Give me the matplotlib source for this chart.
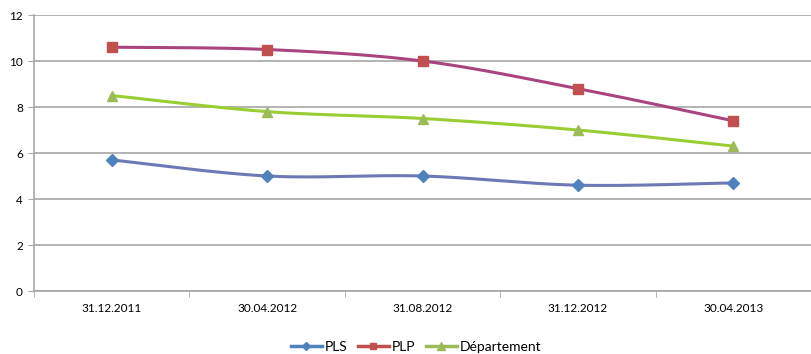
import numpy as np
import matplotlib
matplotlib.use("Agg")
import matplotlib.pyplot as plt

# Données
dates = ["31.12.2011", "30.04.2012", "31.08.2012", "31.12.2012", "30.04.2013"]
pls = [5.7, 5.0, 5.0, 4.6, 4.7]
plp = [10.6, 10.5, 10.0, 8.8, 7.4]
departement = [8.5, 7.8, 7.5, 7.0, 6.3]

SERIES = [
    ("PLS", pls, "#6E78B4", "#4F81BD", "D", 6.5),
    ("PLP", plp, "#A9457E", "#C0504D", "s", 7),
    ("Département", departement, "#9ACD32", "#9BBB59", "^", 7.5),
]

GRID = "#A6A6A6"


def smooth(x, y, n=40):
    # courbe lissée façon Excel (Bézier type Catmull-Rom)
    x = np.asarray(x, float)
    y = np.asarray(y, float)
    px = np.concatenate([[x[0]], x, [x[-1]]])
    py = np.concatenate([[y[0]], y, [y[-1]]])
    xs, ys = [], []
    t = np.linspace(0, 1, n)
    for i in range(len(x) - 1):
        p0 = np.array([px[i + 1], py[i + 1]])
        p3 = np.array([px[i + 2], py[i + 2]])
        c1 = p0 + (np.array([px[i + 2], py[i + 2]]) - np.array([px[i], py[i]])) / 6
        c2 = p3 - (np.array([px[i + 3], py[i + 3]]) - np.array([px[i + 1], py[i + 1]])) / 6
        b = ((1 - t) ** 3)[:, None] * p0 + (3 * (1 - t) ** 2 * t)[:, None] * c1 \
            + (3 * (1 - t) * t ** 2)[:, None] * c2 + (t ** 3)[:, None] * p3
        xs.extend(b[:, 0])
        ys.extend(b[:, 1])
    return np.array(xs), np.array(ys)


plt.rcParams["font.family"] = ["Lato", "DejaVu Sans"]

fig = plt.figure(figsize=(8.11, 3.54), dpi=100)
ax = fig.add_axes([34 / 811, 1 - 291 / 354, 1 - 34 / 811, (291 - 15) / 354])

x = np.arange(len(dates))
handles = []
for nom, vals, lcol, mcol, mk, ms in SERIES:
    sx, sy = smooth(x, vals)
    ax.plot(sx, sy, color=lcol, linewidth=2.2, zorder=3, solid_capstyle="round")
    ax.plot(x, vals, linestyle="none", marker=mk, markersize=ms,
            markerfacecolor=mcol, markeredgecolor=mcol, zorder=4)
    h, = ax.plot([], [], color=mcol, linewidth=2.5, marker=mk, markersize=ms - 2,
                 markerfacecolor=mcol, markeredgecolor=mcol, label=nom)
    handles.append(h)

ax.set_xlim(-0.5, len(dates) - 0.5)
ax.set_ylim(0, 12)
ax.set_yticks(range(0, 13, 2))
ax.yaxis.grid(True, color=GRID, linewidth=1.2)
ax.set_axisbelow(True)

ax.set_xticks(x)
ax.set_xticklabels(dates)
ax.set_xticks(np.arange(-0.5, len(dates)), minor=True)
ax.tick_params(axis="x", which="major", length=0, pad=9, labelsize=8.5)
ax.tick_params(axis="x", which="minor", length=4, color=GRID, direction="out")
ax.tick_params(axis="y", length=4, color=GRID, labelsize=8.5, pad=4)

for side in ["top", "right"]:
    ax.spines[side].set_visible(False)
for side in ["left", "bottom"]:
    ax.spines[side].set_color(GRID)
    ax.spines[side].set_linewidth(1.2)

fig.legend(handles=handles, loc="center", bbox_to_anchor=(416 / 811, 1 - 347 / 354),
           ncol=3, frameon=False, fontsize=10, handlelength=2.2,
           handletextpad=0.2, columnspacing=0.8)

fig.savefig("out.png", dpi=100)
